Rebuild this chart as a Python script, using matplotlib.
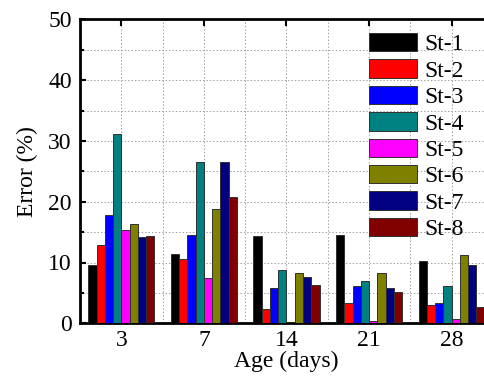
import matplotlib
matplotlib.use('Agg')
import matplotlib.pyplot as plt
import numpy as np

plt.rcParams['font.family'] = ['Liberation Serif', 'DejaVu Serif']

ages = ['3', '7', '14', '21', '28']
series = ['St-1', 'St-2', 'St-3', 'St-4', 'St-5', 'St-6', 'St-7', 'St-8']
colors = ['#000000', '#ff0000', '#0000ff', '#008080',
          '#ff00ff', '#808000', '#000080', '#800000']

st1 = [9.6, 11.45, 14.4, 14.6, 10.3]
st2 = [12.8, 10.5, 2.35, 3.35, 3.0]
st3 = [17.8, 14.5, 5.8, 6.1, 3.3]
st4 = [31.1, 26.6, 8.7, 6.95, 6.1]
st5 = [15.3, 7.4, 0.1, 0.4, 0.65]
st6 = [16.3, 18.75, 8.3, 8.3, 11.2]
st7 = [14.2, 26.5, 7.55, 5.85, 9.65]
st8 = [14.4, 20.8, 6.3, 5.1, 2.6]
values = [st1, st2, st3, st4, st5, st6, st7, st8]

fs = 17

fig = plt.figure(figsize=(4.85, 3.8), dpi=100)
ax = fig.add_axes([80 / 485, 1 - 323.3 / 380, 413 / 485, 304 / 380])

x = np.arange(len(ages))
w = 0.1
for i, (name, vals) in enumerate(zip(series, values)):
    ax.bar(x + (i - 3.5) * w, vals, width=w, color=colors[i],
           edgecolor='#303030', linewidth=0.7, label=name, zorder=3)

ax.set_xlim(-0.5, 4.5)
ax.set_ylim(0, 50)
ax.set_xticks(x)
ax.set_xticklabels(ages)
ax.set_xticks(x[:-1] + 0.5, minor=True)
ax.set_yticks(np.arange(0, 51, 10))
ax.set_yticks(np.arange(5, 50, 10), minor=True)

# light dotted grid on both major and minor positions
ax.grid(True, which='both', color='#a0a0a0', linestyle=(0, (1.5, 2)), linewidth=0.7, zorder=0)
ax.tick_params(axis='both', which='both', direction='in', labelsize=fs, width=1.5)
ax.tick_params(axis='x', which='major', top=True, bottom=False, length=5, pad=5)
ax.tick_params(axis='x', which='minor', length=0)
ax.tick_params(axis='y', which='major', length=4, pad=6)
ax.tick_params(axis='y', which='minor', length=3)

for s in ax.spines.values():
    s.set_linewidth(2)

ax.set_xlabel('Age (days)', fontsize=fs, labelpad=0)
ax.set_ylabel('Error (%)', fontsize=fs, labelpad=7)

ax.legend(loc='upper left', bbox_to_anchor=(369 / 485, 1 - 33 / 380),
          bbox_transform=fig.transFigure, frameon=False, fontsize=fs,
          handlelength=2.05, handleheight=0.82, labelspacing=0.17,
          handletextpad=0.3, borderpad=0, borderaxespad=0)

fig.savefig('out.png', dpi=100)
